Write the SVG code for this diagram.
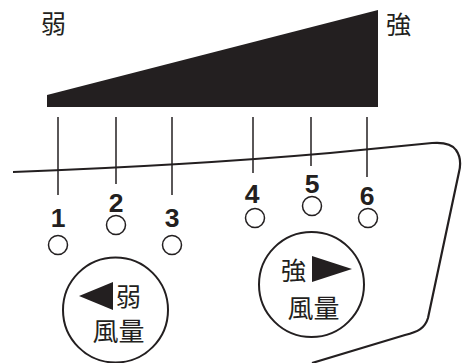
<svg xmlns="http://www.w3.org/2000/svg" width="463" height="363" viewBox="0 0 463 363">
<style>
.cjk{font-family:"Noto Sans CJK JP","Noto Sans CJK SC",sans-serif;fill:#231f20}
.num{font-family:"Liberation Sans",Arial,sans-serif;font-weight:bold;font-size:26.5px;fill:#231f20;text-anchor:middle}
.tick{stroke:#231f20;stroke-width:1.5}
.led{fill:#fff;stroke:#231f20;stroke-width:1.5}
.btn{fill:#fff;stroke:#231f20;stroke-width:2}
</style>
<rect width="463" height="363" fill="#fff"/>
<g id="panel">
<path d="M13,172 C120,168 250,160 330,153 C370,149 410,145 432,143 C445,142 452,144 456,150 C461,157 461,164 459,172 L428,318 C425,328 418,332 405,335 L312,363" fill="none" stroke="#231f20" stroke-width="2.2"/>
</g>
<g id="scale">
<polygon points="47,95 378,10 378,107 47,107" fill="#231f20"/>
<text class="cjk" x="41" y="33" font-size="25">弱</text>
<text class="cjk" x="386" y="34" font-size="25">強</text>
</g>
<g id="connectors">
<line class="tick" x1="58" y1="117" x2="58" y2="195"/>
<line class="tick" x1="116" y1="117" x2="116" y2="184"/>
<line class="tick" x1="172" y1="117" x2="172" y2="195"/>
<line class="tick" x1="253" y1="117" x2="253" y2="173"/>
<line class="tick" x1="311" y1="117" x2="311" y2="166"/>
<line class="tick" x1="367" y1="117" x2="367" y2="177"/>
</g>
<g id="speed1"><text class="num" x="58" y="227">1</text><circle class="led" cx="58" cy="245" r="9.5"/></g>
<g id="speed2"><text class="num" x="116" y="212">2</text><circle class="led" cx="116" cy="225" r="9.5"/></g>
<g id="speed3"><text class="num" x="172" y="227">3</text><circle class="led" cx="172" cy="245" r="9.5"/></g>
<g id="speed4"><text class="num" x="252" y="203">4</text><circle class="led" cx="255" cy="218" r="9.5"/></g>
<g id="speed5"><text class="num" x="312" y="193">5</text><circle class="led" cx="312" cy="206" r="9.5"/></g>
<g id="speed6"><text class="num" x="367" y="205">6</text><circle class="led" cx="368" cy="218" r="9.5"/></g>
<g id="btn-weak">
<circle class="btn" cx="115.5" cy="310" r="52.5"/>
<polygon points="79,296 113,282 113,310" fill="#231f20"/>
<text class="cjk" x="116" y="306" font-size="25">弱</text>
<text class="cjk" x="118.5" y="341" font-size="26" text-anchor="middle">風量</text>
</g>
<g id="btn-strong">
<circle class="btn" cx="311.5" cy="284.5" r="52.5"/>
<text class="cjk" x="281" y="280" font-size="25">強</text>
<polygon points="312,256 352,269 312,282" fill="#231f20"/>
<text class="cjk" x="313.5" y="318" font-size="26" text-anchor="middle">風量</text>
</g>
</svg>
